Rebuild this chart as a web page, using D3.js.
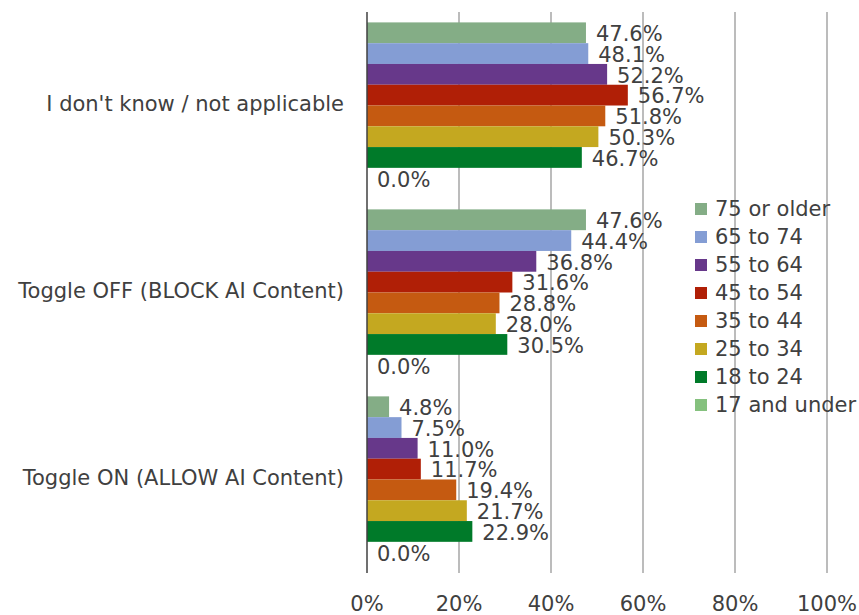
<!DOCTYPE html>
<html>
<head>
<meta charset="utf-8">
<script src="https://cdn.jsdelivr.net/npm/d3@7"></script>
<style>
  body { margin: 0; background: #fff; }
  text { font-family: "DejaVu Sans", Verdana, sans-serif; fill: #404040; }
</style>
</head>
<body>
<script>
// categories, top to bottom
const categories = [
    "I don't know / not applicable",
    "Toggle OFF (BLOCK AI Content)",
    "Toggle ON (ALLOW AI Content)"
];

// age groups, top to bottom inside each category
const ageGroups = ['75 or older', '65 to 74', '55 to 64', '45 to 54', '35 to 44', '25 to 34', '18 to 24', '17 and under'];
const ageColors = ['#84ad86', '#849dd4', '#67388a', '#b01f06', '#c55a11', '#c4a820', '#007a29', '#85c17e'];

// percentages per age group, in category order
const age75plus  = [47.6, 47.6, 4.8];
const age65to74  = [48.1, 44.4, 7.5];
const age55to64  = [52.2, 36.8, 11.0];
const age45to54  = [56.7, 31.6, 11.7];
const age35to44  = [51.8, 28.8, 19.4];
const age25to34  = [50.3, 28.0, 21.7];
const age18to24  = [46.7, 30.5, 22.9];
const age17under = [0.0, 0.0, 0.0];

const xTicks = [0, 20, 40, 60, 80, 100];

const seriesValues = [age75plus, age65to74, age55to64, age45to54, age35to44, age25to34, age18to24, age17under];

const W = 859, H = 615;
const plot = { left: 367, right: 827, top: 12, bottom: 573 };
const FONT = '21px';

const svg = d3.select('body').append('svg')
    .attr('width', W)
    .attr('height', H);

const x = d3.scaleLinear()
    .domain([0, 100])
    .range([plot.left, plot.right]);

const y = d3.scaleBand()
    .domain(categories)
    .range([plot.top, plot.bottom])
    .paddingInner(0.111)
    .paddingOuter(0.0556);

const ySub = d3.scaleBand()
    .domain(ageGroups)
    .range([0, y.bandwidth()]);

// gridlines
svg.append('g')
    .selectAll('line')
    .data(xTicks.slice(1))
    .join('line')
    .attr('x1', d => x(d)).attr('x2', d => x(d))
    .attr('y1', plot.top).attr('y2', plot.bottom)
    .attr('stroke', '#a6a6a6')
    .attr('stroke-width', 1.5);

// bars
const rows = [];
categories.forEach((c, ci) => {
    ageGroups.forEach((a, ai) => {
        rows.push({ cat: c, age: a, color: ageColors[ai], value: seriesValues[ai][ci] });
    });
});

svg.append('g')
    .selectAll('rect')
    .data(rows.filter(d => d.value > 0))
    .join('rect')
    .attr('x', x(0))
    .attr('y', d => y(d.cat) + ySub(d.age))
    .attr('width', d => x(d.value) - x(0))
    .attr('height', ySub.bandwidth())
    .attr('fill', d => d.color);

// value labels
svg.append('g')
    .selectAll('text')
    .data(rows)
    .join('text')
    .attr('x', d => x(d.value) + 10)
    .attr('y', d => y(d.cat) + ySub(d.age) + ySub.bandwidth() / 2 + 1)
    .attr('dy', '0.35em')
    .style('font-size', FONT)
    .text(d => d.value.toFixed(1) + '%');

// zero axis line
svg.append('line')
    .attr('x1', x(0)).attr('x2', x(0))
    .attr('y1', plot.top).attr('y2', plot.bottom)
    .attr('stroke', '#404040')
    .attr('stroke-width', 1.5);

// x tick labels
svg.append('g')
    .selectAll('text')
    .data(xTicks)
    .join('text')
    .attr('x', d => x(d))
    .attr('y', 604)
    .attr('dy', '0.35em')
    .attr('text-anchor', 'middle')
    .style('font-size', FONT)
    .text(d => d + '%');

// category labels
svg.append('g')
    .selectAll('text')
    .data(categories)
    .join('text')
    .attr('x', 344)
    .attr('y', d => y(d) + y.bandwidth() / 2 - 2)
    .attr('dy', '0.35em')
    .attr('text-anchor', 'end')
    .style('font-size', FONT)
    .text(d => d);

// legend
const legend = svg.append('g')
    .selectAll('g')
    .data(ageGroups)
    .join('g')
    .attr('transform', (d, i) => `translate(695, ${209 + i * 28})`);

legend.append('rect')
    .attr('x', 0).attr('y', -6)
    .attr('width', 12).attr('height', 12)
    .attr('fill', (d, i) => ageColors[i]);

legend.append('text')
    .attr('x', 20)
    .attr('y', 0)
    .attr('dy', '0.35em')
    .style('font-size', FONT)
    .text(d => d);
</script>
</body>
</html>
